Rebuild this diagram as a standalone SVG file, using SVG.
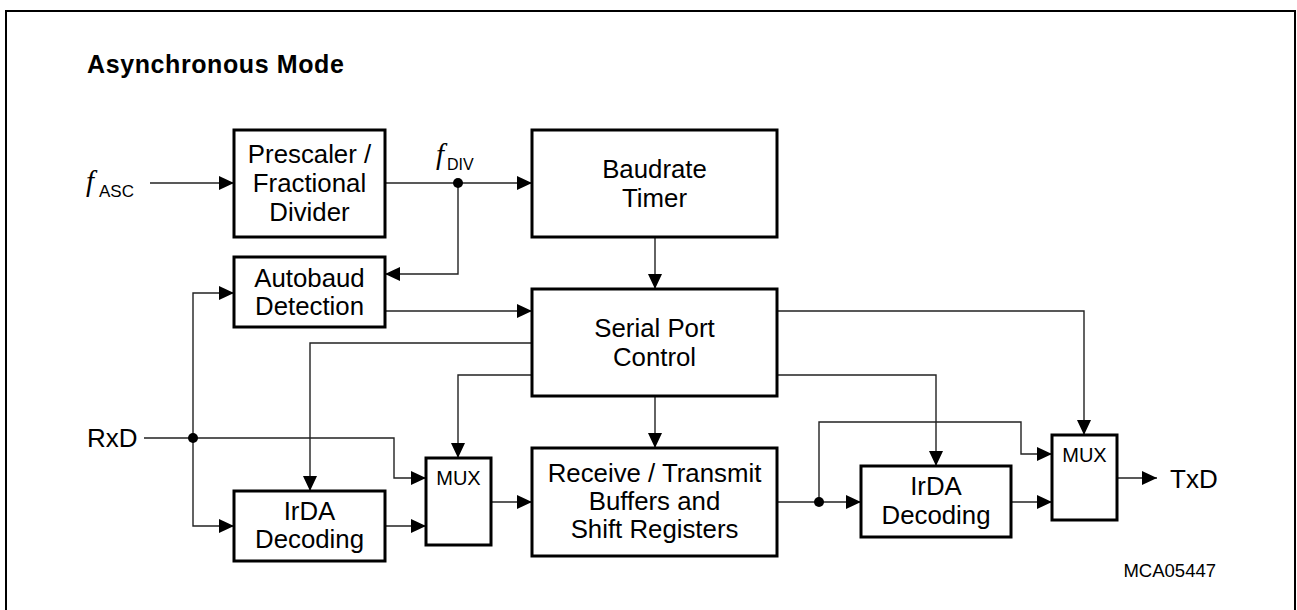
<svg xmlns="http://www.w3.org/2000/svg" width="1297" height="610" viewBox="0 0 1297 610">
<style>
.box{fill:#fff;stroke:#000;stroke-width:3}
.t{font-family:"Liberation Sans",Arial,sans-serif;font-size:25.8px;fill:#000;text-anchor:middle}
.lbl{font-family:"Liberation Sans",Arial,sans-serif;font-size:26px;fill:#000}
.mux{font-family:"Liberation Sans",Arial,sans-serif;font-size:20px;fill:#000;text-anchor:middle}
.fi{font-family:"Liberation Serif","Times New Roman",serif;font-style:italic;font-size:29px;fill:#000}
.sub{font-family:"Liberation Sans",Arial,sans-serif;font-size:17px;fill:#000}
.ln{fill:none;stroke:#222;stroke-width:1.4}
.arr{marker-end:url(#ah)}
.dot{fill:#000}
</style>
<defs>
<marker id="ah" markerUnits="userSpaceOnUse" markerWidth="16" markerHeight="15" refX="15" refY="7" orient="auto">
<path d="M0,0 L15,7 L0,14 z" fill="#000"/>
</marker>
</defs>
<rect x="6" y="11" width="1289" height="620" fill="#fff" stroke="#000" stroke-width="2"/>
<text x="87" y="73" style="font-family:'Liberation Sans',Arial,sans-serif;font-size:25px;font-weight:bold;letter-spacing:0.6px">Asynchronous Mode</text>

<g id="connectors">
<path class="ln arr" d="M150,183 H234"/>
<path class="ln arr" d="M385,183 H532"/>
<path class="ln arr" d="M458,183 V274 H385"/>
<path class="ln arr" d="M144,438 H193 V293 H234"/>
<path class="ln arr" d="M385,311 H532"/>
<path class="ln arr" d="M655,237 V289"/>
<path class="ln arr" d="M655,396 V448"/>
<path class="ln arr" d="M532,343 H310 V491"/>
<path class="ln arr" d="M532,375 H458 V458"/>
<path class="ln arr" d="M193,438 H394 V478 H426"/>
<path class="ln arr" d="M193,438 V526 H234"/>
<path class="ln arr" d="M385,526 H426"/>
<path class="ln arr" d="M491,502 H532"/>
<path class="ln arr" d="M777,311 H1084 V435"/>
<path class="ln arr" d="M777,375 H936 V466"/>
<path class="ln arr" d="M777,502 H861"/>
<path class="ln arr" d="M819,502 V422 H1021 V454 H1052"/>
<path class="ln arr" d="M1011,502 H1052"/>
<path class="ln arr" d="M1117,478 H1157"/>
<circle class="dot" cx="458" cy="183" r="5"/>
<circle class="dot" cx="193" cy="438" r="5"/>
<circle class="dot" cx="819" cy="502" r="5"/>
</g>

<g id="fasc">
<text class="fi" x="86" y="191">f</text><text class="sub" x="99" y="197">ASC</text>
</g>
<g id="fdiv">
<text class="fi" x="436" y="164">f</text><text class="sub" x="447" y="170" style="font-size:16px">DIV</text>
</g>
<g id="prescaler">
<rect class="box" x="234" y="130" width="151" height="107"/>
<text class="t" x="309.5" y="163">Prescaler /</text>
<text class="t" x="309.5" y="192">Fractional</text>
<text class="t" x="309.5" y="221">Divider</text>
</g>
<g id="baudrate">
<rect class="box" x="532" y="130" width="245" height="107"/>
<text class="t" x="654.5" y="178">Baudrate</text>
<text class="t" x="654.5" y="207">Timer</text>
</g>
<g id="autobaud">
<rect class="box" x="234" y="257" width="151" height="70"/>
<text class="t" x="309.5" y="287">Autobaud</text>
<text class="t" x="309.5" y="315">Detection</text>
</g>
<g id="serial">
<rect class="box" x="532" y="289" width="245" height="107"/>
<text class="t" x="654.5" y="337">Serial Port</text>
<text class="t" x="654.5" y="366">Control</text>
</g>
<g id="rxd"><text class="lbl" x="87" y="447">RxD</text></g>
<g id="irda1">
<rect class="box" x="234" y="491" width="151" height="70"/>
<text class="t" x="309.5" y="520">IrDA</text>
<text class="t" x="309.5" y="548">Decoding</text>
</g>
<g id="mux1">
<rect class="box" x="426" y="458" width="65" height="87"/>
<text class="mux" x="458.5" y="485">MUX</text>
</g>
<g id="buffers">
<rect class="box" x="532" y="448" width="245" height="108"/>
<text class="t" x="654.5" y="482">Receive / Transmit</text>
<text class="t" x="654.5" y="510">Buffers and</text>
<text class="t" x="654.5" y="538">Shift Registers</text>
</g>
<g id="irda2">
<rect class="box" x="861" y="466" width="150" height="71"/>
<text class="t" x="936" y="495">IrDA</text>
<text class="t" x="936" y="524">Decoding</text>
</g>
<g id="mux2">
<rect class="box" x="1052" y="435" width="65" height="85"/>
<text class="mux" x="1084.5" y="462">MUX</text>
</g>
<g id="txd"><text class="lbl" x="1170" y="488">TxD</text></g>
<text x="1216" y="577" style="font-family:'Liberation Sans',Arial,sans-serif;font-size:18.5px;text-anchor:end">MCA05447</text>
</svg>
